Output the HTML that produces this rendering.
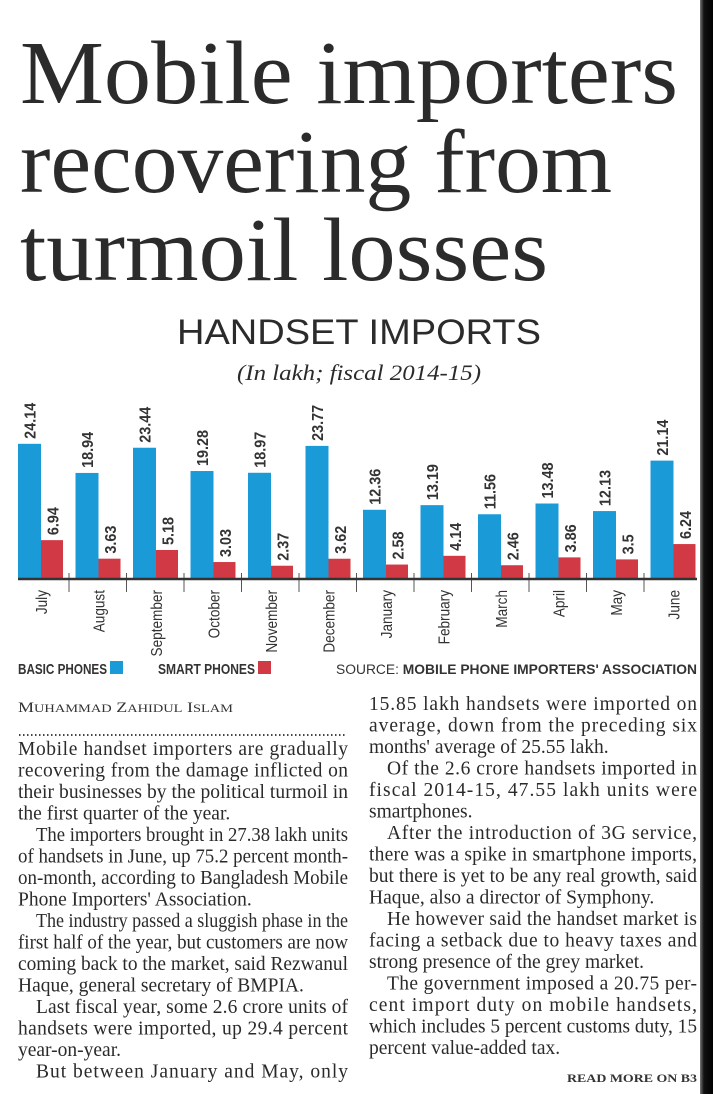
<!DOCTYPE html>
<html><head><meta charset="utf-8"><style>
html,body{margin:0;padding:0;background:#fff;}
svg{display:block}
.t{font-family:"Liberation Serif",serif;fill:#2b2b2b}
.b{font-family:"Liberation Serif",serif;font-size:19.5px;fill:#2a2a2a}
.v{font-family:"Liberation Sans",sans-serif;font-weight:bold;font-size:16px;fill:#333}
.m{font-family:"Liberation Sans",sans-serif;font-size:16px;fill:#333}
</style></head><body>
<svg width="713" height="1094" viewBox="0 0 713 1094" xmlns="http://www.w3.org/2000/svg">
<defs><linearGradient id="g" x1="0" x2="1"><stop offset="0" stop-color="#777"/><stop offset="0.3" stop-color="#111"/><stop offset="1" stop-color="#000"/></linearGradient></defs>
<rect x="0" y="0" width="713" height="1094" fill="#fff"/>
<rect x="700" y="0" width="13" height="1094" fill="url(#g)"/>
<g class="t">
<text x="20" y="103" font-size="90" textLength="658" lengthAdjust="spacingAndGlyphs">Mobile importers</text>
<text x="20" y="192" font-size="90" textLength="592" lengthAdjust="spacingAndGlyphs">recovering from</text>
<text x="20" y="280" font-size="90" textLength="528" lengthAdjust="spacingAndGlyphs">turmoil losses</text>
</g>
<text x="177" y="344" font-family="Liberation Sans,sans-serif" font-size="35" fill="#2b2b2b" textLength="364" lengthAdjust="spacingAndGlyphs">HANDSET IMPORTS</text>
<text x="237" y="380" font-family="Liberation Serif,serif" font-style="italic" font-size="22" fill="#2b2b2b" textLength="244" lengthAdjust="spacingAndGlyphs">(In lakh; fiscal 2014-15)</text>
<g id="chart"></g>
<line x1="18" y1="579" x2="697" y2="579" stroke="#333" stroke-width="2.5"/>
<g font-family="Liberation Sans,sans-serif" font-weight="bold" font-size="15" fill="#333">
<text x="18" y="674" textLength="89" lengthAdjust="spacingAndGlyphs">BASIC PHONES</text>
<text x="158" y="674" textLength="97" lengthAdjust="spacingAndGlyphs">SMART PHONES</text>
</g>
<rect x="110" y="661" width="13" height="13" fill="#1b9ad8"/>
<rect x="258" y="661" width="13" height="13" fill="#d13a45"/>
<text x="336" y="674" font-family="Liberation Sans,sans-serif" font-size="13.5" fill="#333" textLength="361" lengthAdjust="spacingAndGlyphs">SOURCE: <tspan font-weight="bold">MOBILE PHONE IMPORTERS' ASSOCIATION</tspan></text>
<text x="18" y="712" font-family="Liberation Serif,serif" font-size="15" fill="#333" textLength="215" lengthAdjust="spacingAndGlyphs">M<tspan font-size="12">UHAMMAD</tspan> Z<tspan font-size="12">AHIDUL</tspan> I<tspan font-size="12">SLAM</tspan></text>
<line x1="19" y1="735" x2="347" y2="735" stroke="#444" stroke-width="2" stroke-dasharray="1.5,2.5"/>
<g id="body" class="b"></g>
<text x="567" y="1082" font-family="Liberation Serif,serif" font-weight="bold" font-size="12" fill="#333" textLength="130" lengthAdjust="spacingAndGlyphs">READ MORE ON B3</text>
</svg>
<script>
var NS="http://www.w3.org/2000/svg";
var basic=[24.14,18.94,23.44,19.28,18.97,23.77,12.36,13.19,11.56,13.48,12.13,21.14];
var smart=[6.94,3.63,5.18,3.03,2.37,3.62,2.58,4.14,2.46,3.86,3.5,6.24];
var months=["July","August","September","October","November","December","January","February","March","April","May","June"];
var c=document.getElementById("chart"),B=579,S=5.6;
function el(t,a,p,txt){var e=document.createElementNS(NS,t);for(var k in a)e.setAttribute(k,a[k]);if(txt)e.textContent=txt;(p||c).appendChild(e);return e;}
for(var i=0;i<12;i++){
 var x=18+57.5*i,hb=basic[i]*S,hs=smart[i]*S;
 el("rect",{x:x,y:B-hb,width:23,height:hb,fill:"#1b9ad8"});
 el("rect",{x:x+23,y:B-hs,width:22,height:hs,fill:"#d13a45"});
 var bx=x+11.5+6,by=B-hb-5;
 el("text",{"class":"v",transform:"translate("+bx+","+by+") rotate(-90) scale(0.9,1)"},null,basic[i]);
 var sx=x+34.5+6,sy=B-hs-5;
 el("text",{"class":"v",transform:"translate("+sx+","+sy+") rotate(-90) scale(0.9,1)"},null,smart[i]);
 el("text",{"class":"m","text-anchor":"end",transform:"translate("+(x+23+6)+",590) rotate(-90) scale(0.85,1)"},null,months[i]);
 if(i<11) el("line",{x1:x+51,y1:573,x2:x+51,y2:592,stroke:"#555","stroke-width":1});
}
var body=document.getElementById("body");
var L=[
["Mobile handset importers are gradually",0,1],
["recovering from the damage inflicted on",0,1],
["their businesses by the political turmoil in",0,1],
["the first quarter of the year.",0,0],
["The importers brought in 27.38 lakh units",1,1],
["of handsets in June, up 75.2 percent month-",0,1],
["on-month, according to Bangladesh Mobile",0,1],
["Phone Importers' Association.",0,0],
["The industry passed a sluggish phase in the",1,1],
["first half of the year, but customers are now",0,1],
["coming back to the market, said Rezwanul",0,1],
["Haque, general secretary of BMPIA.",0,0],
["Last fiscal year, some 2.6 crore units of",1,1],
["handsets were imported, up 29.4 percent",0,1],
["year-on-year.",0,0],
["But between January and May, only",1,1]];
var R=[
["15.85 lakh handsets were imported on",0,1],
["average, down from the preceding six",0,1],
["months' average of 25.55 lakh.",0,0],
["Of the 2.6 crore handsets imported in",1,1],
["fiscal 2014-15, 47.55 lakh units were",0,1],
["smartphones.",0,0],
["After the introduction of 3G service,",1,1],
["there was a spike in smartphone imports,",0,1],
["but there is yet to be any real growth, said",0,1],
["Haque, also a director of Symphony.",0,0],
["He however said the handset market is",1,1],
["facing a setback due to heavy taxes and",0,1],
["strong presence of the grey market.",0,0],
["The government imposed a 20.75 per-",1,1],
["cent import duty on mobile handsets,",0,1],
["which includes 5 percent customs duty, 15",0,1],
["percent value-added tax.",0,0]];
function col(arr,x0,x1,y0){arr.forEach(function(l,k){var x=x0+(l[1]?18:0);var a={x:x,y:y0+21.5*k};var e=el("text",a,body,l[0]);
 var w=e.getComputedTextLength(),tw=x1-x;
 if(l[2]||w>tw){e.setAttribute("textLength",tw);e.setAttribute("lengthAdjust",w>tw?"spacingAndGlyphs":"spacing");}
});}
col(L,18,348,755);col(R,369,697,710);
</script>
</body></html>
